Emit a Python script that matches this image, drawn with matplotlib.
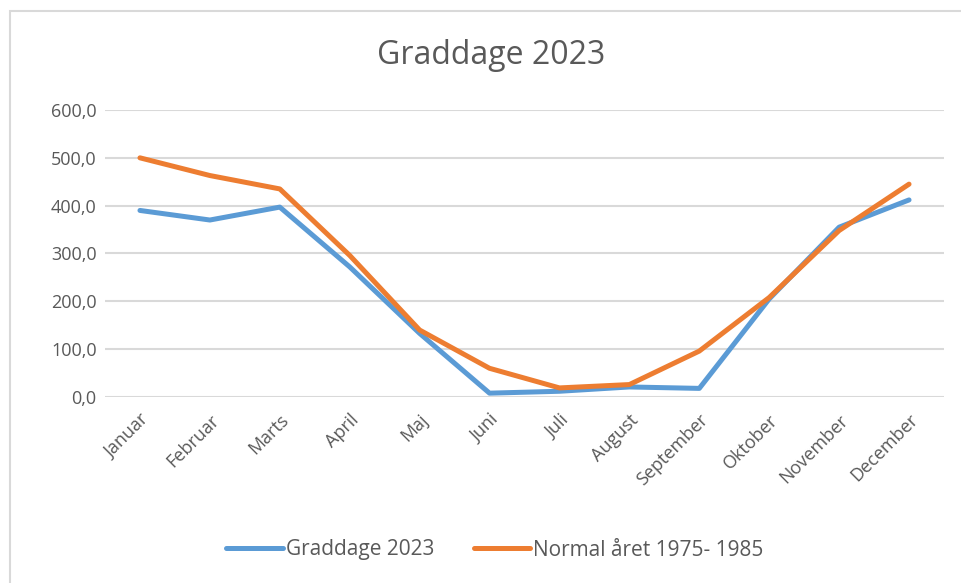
import matplotlib.pyplot as plt
import matplotlib.patches as mpatches
import numpy as np

plt.rcParams['font.family'] = ['Open Sans', 'DejaVu Sans']

maaneder = ['Januar', 'Februar', 'Marts', 'April', 'Maj', 'Juni', 'Juli',
            'August', 'September', 'Oktober', 'November', 'December']
graddage_2023 = [390, 370, 397, 272, 133, 8, 12, 21, 18, 205, 355, 412]
normal_aar = [500, 463, 435, 296, 140, 60, 19, 26, 96, 208, 348, 445]
yticks = [0, 100, 200, 300, 400, 500, 600]

fig = plt.figure(figsize=(9.61, 5.83), dpi=100)
# graa ramme (beskaaret i hoejre/nederste kant)
fig.patches.append(mpatches.Rectangle((10/961, -0.1), 1.2, 1 - 11/583 + 0.1,
                                      transform=fig.transFigure, fill=False,
                                      edgecolor='#d9d9d9', linewidth=1.5))

ax = fig.add_axes([105/961, 1 - 397/583, (944 - 105)/961, (397 - 110)/583])
x = np.arange(len(maaneder))
ax.plot(x, graddage_2023, color='#5B9BD5', lw=3.6, label='Graddage 2023',
        solid_capstyle='round', solid_joinstyle='round', zorder=3)
ax.plot(x, normal_aar, color='#ED7D31', lw=3.6, label='Normal året 1975- 1985',
        solid_capstyle='round', solid_joinstyle='round', zorder=3)

ax.set_xlim(-0.5, len(maaneder) - 0.5)
ax.set_ylim(0, 600)
ax.set_yticks(yticks)
ax.set_yticklabels([f'{v:.1f}'.replace('.', ',') for v in yticks])
ax.set_xticks(x)
ax.set_xticklabels(maaneder, rotation=45, ha='right', rotation_mode='anchor')
ax.tick_params(length=0, labelsize=13, colors='#595959')
ax.tick_params(axis='y', pad=6)
ax.tick_params(axis='x', pad=10)
ax.grid(axis='y', color='#d9d9d9', lw=1.5)
ax.set_axisbelow(True)
for s in ax.spines.values():
    s.set_visible(False)

fig.text(491/961, 1 - 55/583, 'Graddage 2023', ha='center', va='center',
         fontsize=23, color='#595959')
fig.legend(loc='center', bbox_to_anchor=(495/961, 1 - 550/583), ncol=2,
           frameon=False, fontsize=15, handlelength=2.7, columnspacing=1.9,
           handletextpad=0.15, labelcolor='#595959')

plt.savefig('out.png', dpi=100)
